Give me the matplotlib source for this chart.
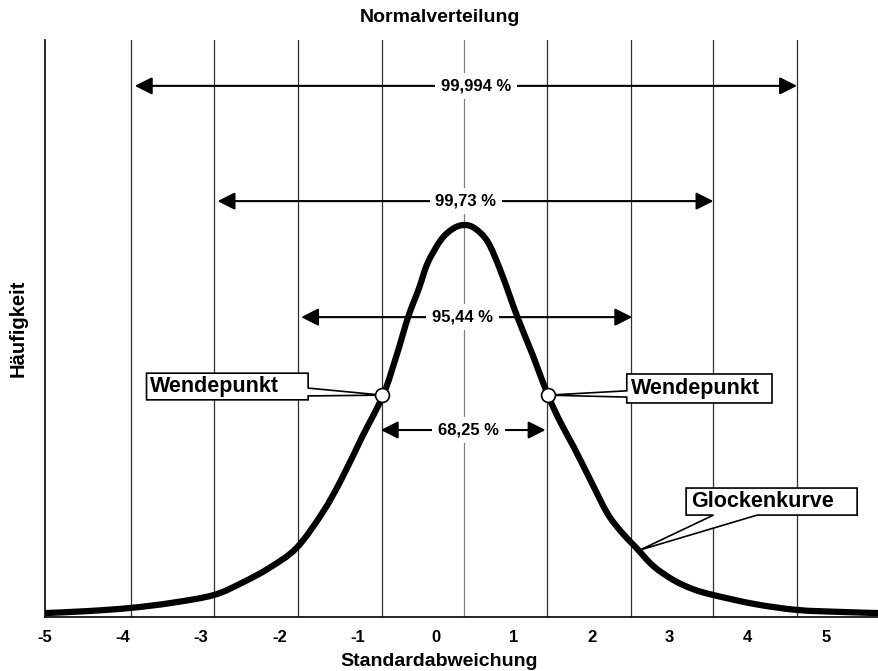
import matplotlib
matplotlib.use('Agg')
import matplotlib.pyplot as plt
from matplotlib.patches import FancyArrowPatch, Polygon, PathPatch
from matplotlib.path import Path

plt.rcParams['font.family'] = ['Liberation Sans', 'DejaVu Sans']
plt.rcParams['font.weight'] = 'bold'

# bell curve (x in "Standardabweichung" units, y relative to peak)
curve_x = [-5.0, -4.46, -3.91, -3.38, -2.84, -2.48, -2.13, -1.78, -1.45, -1.21, -0.94,
           -0.67, -0.50, -0.35, -0.21, -0.10, 0.07, 0.22, 0.36, 0.50, 0.67, 0.84, 1.05,
           1.25, 1.44, 1.60, 1.77, 1.99, 2.20, 2.38, 2.56, 2.79, 3.05, 3.30, 3.56, 4.09,
           4.63, 5.18, 5.68]
curve_y = [0.010, 0.015, 0.023, 0.036, 0.056, 0.087, 0.125, 0.176, 0.265, 0.349, 0.459,
           0.566, 0.666, 0.765, 0.839, 0.903, 0.962, 0.990, 1.000, 0.992, 0.957, 0.880, 0.765,
           0.666, 0.566, 0.497, 0.434, 0.347, 0.265, 0.217, 0.179, 0.130, 0.094, 0.071, 0.056, 0.033,
           0.018, 0.013, 0.010]

# vertical lines (mean +/- k sigma)
grid_x = [-3.90, -2.83, -1.76, -0.68, 0.36, 1.43, 2.50, 3.56, 4.63]

# inflection points
wende_x = [-0.68, 1.44]
wende_y = [0.566, 0.566]

# percentage spans
span_labels = ['99,994 %', '99,73 %', '95,44 %', '68,25 %']
span_left = [-3.85, -2.79, -1.72, -0.70]
span_right = [4.63, 3.56, 2.52, 1.41]
span_y = [1.355, 1.061, 0.765, 0.477]
span_text_x = [0.52, 0.39, 0.35, 0.42]

tick_vals = [-5, -4, -3, -2, -1, 0, 1, 2, 3, 4, 5]


def smooth_path(xs, ys):
    # smoothed line like a spreadsheet "smooth line": Catmull-Rom segments as cubic Beziers
    pts = list(zip(xs, ys))
    n = len(pts)
    verts = [pts[0]]
    codes = [Path.MOVETO]
    for i in range(n - 1):
        p0 = pts[max(i - 1, 0)]
        p1 = pts[i]
        p2 = pts[i + 1]
        p3 = pts[min(i + 2, n - 1)]
        c1 = (p1[0] + (p2[0] - p0[0]) / 6, p1[1] + (p2[1] - p0[1]) / 6)
        c2 = (p2[0] - (p3[0] - p1[0]) / 6, p2[1] - (p3[1] - p1[1]) / 6)
        verts += [c1, c2, p2]
        codes += [Path.CURVE4] * 3
    return Path(verts, codes)


fig = plt.figure(figsize=(8.79, 6.71), dpi=100)
ax = fig.add_axes([45 / 879, 54 / 671, 834 / 879, 577 / 671])

for i, gx in enumerate(grid_x):
    col = '#808080' if i == 4 else '#303030'
    ax.axvline(gx, color=col, lw=0.9, zorder=1)

ax.add_patch(PathPatch(smooth_path(curve_x, curve_y), fc='none', ec='black', lw=4.5,
                       capstyle='butt', zorder=3))

for lab, x0, x1, yy, tx in zip(span_labels, span_left, span_right, span_y, span_text_x):
    arr = FancyArrowPatch((x0, yy), (x1, yy), arrowstyle='<|-|>,head_length=10.5,head_width=5.3',
                          mutation_scale=1, shrinkA=0, shrinkB=0, lw=1.5, color='black', zorder=4)
    ax.add_patch(arr)
    ax.text(tx, yy, lab, ha='center', va='center', fontsize=12, fontweight='bold', zorder=5,
            bbox=dict(boxstyle='square,pad=0.35', fc='white', ec='none'))

# callout boxes (rectangle with wedge)
left_box = [(-3.70, 0.622), (-1.63, 0.622), (-1.63, 0.584), (wende_x[0], wende_y[0]),
            (-1.63, 0.564), (-1.63, 0.554), (-3.70, 0.554)]
right_box = [(2.45, 0.620), (4.31, 0.620), (4.31, 0.546), (2.45, 0.546),
             (2.45, 0.561), (wende_x[1], wende_y[1]), (2.45, 0.577)]
glocke_box = [(3.21, 0.329), (5.40, 0.329), (5.40, 0.260), (4.12, 0.260),
              (2.62, 0.171), (3.56, 0.260), (3.21, 0.260)]
for pts in [left_box, right_box, glocke_box]:
    ax.add_patch(Polygon(pts, closed=True, fc='white', ec='black', lw=1.2, zorder=6,
                         clip_on=False))

ax.text(-3.66, 0.588, 'Wendepunkt', ha='left', va='center', fontsize=15.5, zorder=7)
ax.text(2.50, 0.583, 'Wendepunkt', ha='left', va='center', fontsize=15.5, zorder=7)
ax.text(3.28, 0.295, 'Glockenkurve', ha='left', va='center', fontsize=15.5, zorder=7)

ax.plot(wende_x, wende_y, 'o', ms=10, mfc='white', mec='black', mew=1.2, zorder=8)

ax.set_xlim(-5, 5.68)
ax.set_ylim(0, 1.472)
ax.set_xticks(tick_vals)
ax.set_xticklabels([str(t) for t in tick_vals], fontsize=12, fontweight='bold')
ax.tick_params(axis='x', length=0, pad=9)
ax.set_yticks([])
for s in ['top', 'right']:
    ax.spines[s].set_visible(False)
for s in ['left', 'bottom']:
    ax.spines[s].set_linewidth(1.2)

fig.text(0.5, 1 - 18 / 671, 'Normalverteilung', ha='center', va='center', fontsize=14)
fig.text(0.5, 1 - 661 / 671, 'Standardabweichung', ha='center', va='center', fontsize=14)
fig.text(18 / 879, 1 - 328 / 671, 'Häufigkeit', ha='center', va='center', rotation=90,
         fontsize=14.5)

fig.savefig('out.png', dpi=100)
